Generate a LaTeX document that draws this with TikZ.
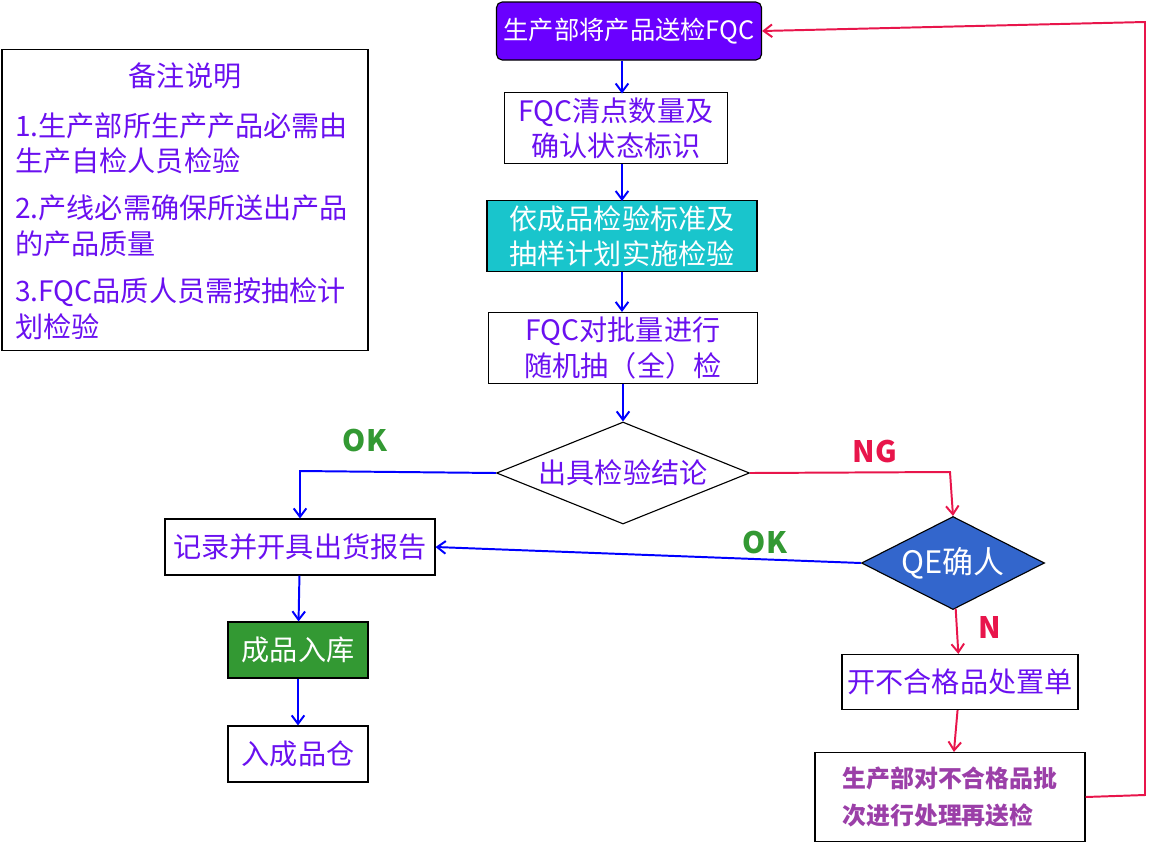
\documentclass[tikz,border=0pt]{standalone}
\usepackage{fontspec}
\setmainfont{Noto Sans CJK SC}
\usetikzlibrary{arrows.meta,shapes.geometric}
\definecolor{txt}{HTML}{6A10F0}
\definecolor{topc}{HTML}{6A00FF}
\definecolor{cyanc}{HTML}{19C5CC}
\definecolor{greenc}{HTML}{339933}
\definecolor{bluec}{HTML}{3366CC}
\definecolor{redc}{HTML}{E8154B}
\definecolor{lastc}{HTML}{9B3FA8}
\tikzset{
  box/.style={draw, thick, text=txt, align=center, inner sep=0pt,
    font=\fontsize{20}{25}\selectfont},
  dia/.style={draw, diamond, aspect=2.5, inner sep=0pt, align=center,
    font=\fontsize{20}{25}\selectfont},
  barrow/.style={draw=blue, line width=1.4pt, -{Straight Barb[length=6pt,width=9pt]}},
  rarrow/.style={draw=redc, line width=1.4pt, -{Straight Barb[length=6pt,width=9pt]}},
  lab/.style={font=\bfseries\fontsize{21}{25}\selectfont}
}
\begin{document}
\begin{tikzpicture}[x=0.025cm,y=-0.025cm]
\useasboundingbox (0,0) rectangle (1151,843);
% notes
\node[box, minimum width=366*0.025cm, minimum height=301*0.025cm] (note) at (185,200) {};
\node[text=txt, font=\fontsize{20}{25}\selectfont] (title) at (185,76) {备注说明};
\node[text=txt, anchor=north west, align=left, inner sep=0pt, font=\fontsize{20}{25}\selectfont] (items) at (15,112)
 {1.生产部所生产产品必需由\\生产自检人员检验\\[9pt]2.产线必需确保所送出产品\\的产品质量\\[9pt]3.FQC品质人员需按抽检计\\划检验};
% main flow
\node[box, fill=topc, text=white, rounded corners=4pt, minimum width=265*0.025cm, minimum height=58*0.025cm, font=\fontsize{18}{24}\selectfont] (send) at (629,31) {生产部将产品送检FQC};
\node[box, minimum width=223*0.025cm, minimum height=71*0.025cm] (count) at (616,128) {FQC清点数量及\\确认状态标识};
\node[box, fill=cyanc, text=white, minimum width=270*0.025cm, minimum height=71*0.025cm] (std) at (622,236) {依成品检验标准及\\抽样计划实施检验};
\node[box, minimum width=269*0.025cm, minimum height=71*0.025cm] (rand) at (623,348) {FQC对批量进行\\随机抽（全）检};
\node[dia, draw=black, thick, text=txt, minimum width=253*0.025cm, minimum height=102*0.025cm] (res) at (623,473) {出具检验结论};
\node[box, minimum width=270*0.025cm, minimum height=56*0.025cm] (rep) at (300,547) {记录并开具出货报告};
\node[box, fill=greenc, text=white, minimum width=140*0.025cm, minimum height=56*0.025cm] (stock) at (298,650) {成品入库};
\node[box, minimum width=140*0.025cm, minimum height=56*0.025cm] (ware) at (298,754) {入成品仓};
\node[dia, draw=black, thick, fill=bluec, text=white, minimum width=183*0.025cm, minimum height=93*0.025cm, font=\fontsize{22}{26}\selectfont] (qe) at (953,563) {QE确人};
\node[box, minimum width=236*0.025cm, minimum height=55*0.025cm] (bad) at (960,682) {开不合格品处置单};
\node[box, text=lastc, align=left, font=\bfseries\fontsize{17}{26}\selectfont, minimum width=270*0.025cm, minimum height=89*0.025cm] (redo) at (950,797) {生产部对不合格品批\\次进行处理再送检};
\coordinate (okc) at (300,471);
\coordinate (ngc) at (950,472);
\coordinate (rb) at (1145,795);
\coordinate (rt) at (1145,22);
% connectors
\draw[barrow] (send.south -| count.north) ++(6,0) -- ++(0,33);
\draw[barrow] (count.south) ++(6,0) -- ++(0,37);
\draw[barrow] (std.south) -- (std.south |- rand.north);
\draw[barrow] (rand) -- (res);
\draw[barrow] (res.west) -- (okc) -- (rep.north);
\draw[rarrow] (res.east) -- (ngc) -- (qe.north);
\draw[barrow] (qe.west) -- (rep.east);
\draw[barrow] (rep) -- (stock);
\draw[barrow] (stock) -- (ware);
\draw[rarrow] (qe) -- (bad);
\draw[rarrow] (bad) -- (redo);
\draw[rarrow] (redo.east) -- (rb) -- (rt) -- (send.east);
% labels
\node[lab, text=greenc] at (365,441) {OK};
\node[lab, text=redc] at (875,452) {NG};
\node[lab, text=greenc] at (765,543) {OK};
\node[lab, text=redc] at (990,627) {N};
\end{tikzpicture}
\end{document}
